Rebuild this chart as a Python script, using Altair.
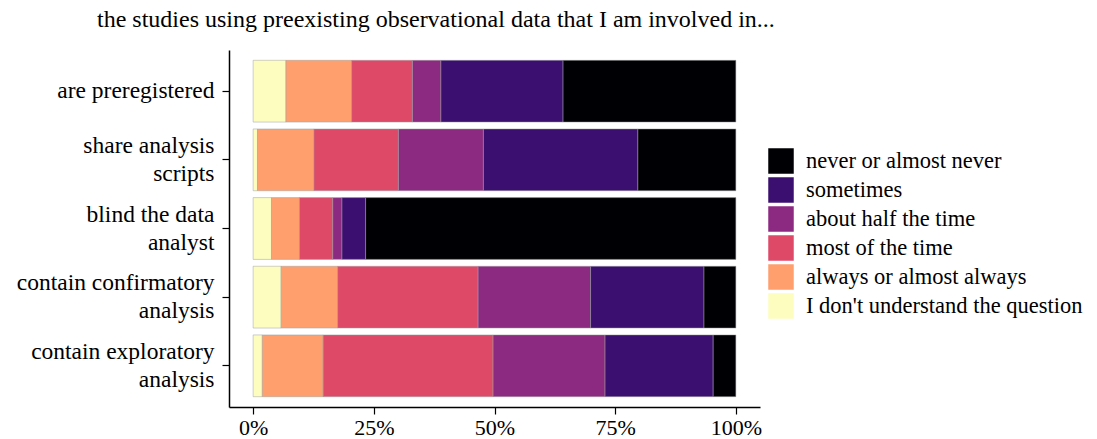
import altair as alt
import pandas as pd

items = ["are preregistered", "share analysis|scripts", "blind the data|analyst",
         "contain confirmatory|analysis", "contain exploratory|analysis"]
responses = ["never or almost never", "sometimes", "about half the time",
             "most of the time", "always or almost always", "I don't understand the question"]
colors = ["#000004", "#3b0f70", "#8c2981", "#de4968", "#fe9f6d", "#fcfdbf"]

# percentages per item (same order as items)
dont_understand = [6.8, 0.9, 3.8, 5.8, 1.9]
always = [13.6, 11.7, 5.8, 11.7, 12.6]
most = [12.6, 17.5, 6.9, 29.1, 35.2]
half = [5.9, 17.6, 1.9, 23.3, 23.2]
sometimes = [25.3, 32.0, 4.9, 23.5, 22.4]
never = [35.8, 20.3, 76.7, 6.6, 4.7]

series = {
    "I don't understand the question": dont_understand,
    "always or almost always": always,
    "most of the time": most,
    "about half the time": half,
    "sometimes": sometimes,
    "never or almost never": never,
}
stack_order = list(series.keys())

rows = []
for resp, vals in series.items():
    for item, v in zip(items, vals):
        rows.append({"item": item, "response": resp, "pct": v,
                     "ord": stack_order.index(resp)})
df = pd.DataFrame(rows)

FONT = "Liberation Serif"

chart = alt.Chart(df).mark_bar(stroke="#a0a0a0", strokeWidth=0.5).encode(
    x=alt.X("pct:Q", stack="zero",
            scale=alt.Scale(domain=[-5, 105], nice=False, zero=False),
            axis=alt.Axis(values=[0, 25, 50, 75, 100], labelExpr="datum.value + '%'",
                          title=None, grid=False, labelPadding=3, labelFontSize=22)),
    y=alt.Y("item:N", sort=items,
            scale=alt.Scale(paddingInner=0.1, paddingOuter=0.15),
            axis=alt.Axis(title=None, labelExpr="split(datum.label, '|')",
                          labelLineHeight=28, labelPadding=8, labelFontSize=23.5,
                          labelLimit=300,
                          labelOffset={"condition": {"test": "indexof(datum.value, '|') >= 0",
                                                     "value": -14},
                                       "value": 0})),
    color=alt.Color("response:N",
                    scale=alt.Scale(domain=responses, range=colors),
                    legend=alt.Legend(title=None, orient="none", legendX=539, legendY=98,
                                      symbolType="square", symbolSize=650,
                                      symbolStrokeWidth=0, labelFont=FONT,
                                      labelFontSize=22.5, labelColor="black",
                                      rowPadding=3, labelOffset=12, labelLimit=400)),
    order=alt.Order("ord:Q", sort="ascending"),
).properties(
    width=531, height=357,
    title=alt.TitleParams("the studies using preexisting observational data that I am involved in...",
                          anchor="start", frame="group", dx=-132, font=FONT, fontSize=24,
                          fontWeight="normal", color="black", offset=18),
    autosize=alt.AutoSizeParams(type="none"),
    padding={"left": 229, "top": 50, "right": 337, "bottom": 32},
).configure_view(stroke=None).configure_axis(
    domainColor="black", domainWidth=1.5, tickColor="black", tickWidth=1.2, tickSize=7,
    labelFont=FONT, labelColor="black",
)

chart.save("out.html", embed_options={"renderer": "svg", "actions": False})
